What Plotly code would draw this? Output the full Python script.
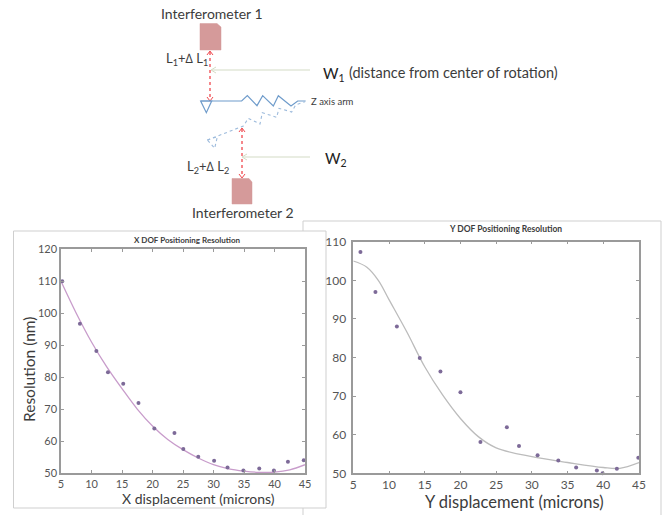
import plotly.graph_objects as go

W, H = 667, 515
FONT = "Lato, Open Sans, sans-serif"

x_scatter_x = [5.2, 8.1, 10.8, 12.7, 15.2, 17.7, 20.3, 23.6, 25.05, 27.5, 30.1, 32.3, 34.9, 37.5, 39.9, 42.2, 44.8]
x_scatter_y = [110, 96.7, 88.2, 81.5, 77.9, 71.9, 63.9, 62.5, 57.5, 55.1, 53.8, 51.7, 50.8, 51.4, 50.8, 53.5, 54]
x_curve_x = [5, 7.5, 10, 12.5, 15, 17.5, 20, 22.5, 25, 27.5, 30, 32.5, 35, 37.5, 40, 42.5, 45]
x_curve_y = [110, 100, 91, 83.2, 76.4, 70, 64.7, 60.5, 57.3, 54.7, 52.6, 51.3, 50.6, 50.2, 50.3, 51, 52.6]

y_scatter_x = [6, 8.1, 11.1, 14.3, 17.2, 20, 22.8, 26.5, 28.2, 30.8, 33.7, 36.2, 39.1, 39.9, 41.9, 44.9]
y_scatter_y = [107.3, 97, 88, 79.9, 76.4, 71, 58.1, 61.9, 57.1, 54.7, 53.3, 51.5, 50.7, 50, 51.2, 54]
y_curve_x = [5, 6.9, 8.5, 10, 12.5, 15, 17.5, 20, 22.5, 25, 30, 35, 40, 42.3, 45]
y_curve_y = [105, 103.4, 100, 95, 86.6, 77.6, 70.3, 64.2, 59.5, 56.6, 54.3, 52.8, 51.5, 51.3, 52.8]

x_ticks = [5, 10, 15, 20, 25, 30, 35, 40, 45]
left_y_ticks = [50, 60, 70, 80, 90, 100, 110, 120]
right_y_ticks = [50, 60, 70, 80, 90, 100, 110]


def fx(p):
    return p / W


def fy(p):
    return 1 - p / H


def frame(x0, y0, x1, y1, fill):
    return dict(type="rect", xref="paper", yref="paper", x0=fx(x0), x1=fx(x1), y0=fy(y1), y1=fy(y0),
                line=dict(color="#cfcfcf", width=1), fillcolor=fill, layer="below")


def path(points, color, width=1.2, dash="solid", fill=None, close=False):
    d = "M " + " L ".join(f"{fx(a):.5f},{fy(b):.5f}" for a, b in points) + (" Z" if close else "")
    return dict(type="path", xref="paper", yref="paper", path=d, fillcolor=fill or "rgba(0,0,0,0)",
                line=dict(color=color, width=width, dash=dash))


def zp(points):
    return [(130 + a / 3, b / 3) for a, b in points]


def label(text, x, y, size, anchor="center", color="#3c3c3c", **kw):
    return dict(text=text, x=fx(x), y=fy(y), xref="paper", yref="paper", showarrow=False,
                xanchor=anchor, yanchor="middle", font=dict(family=FONT, size=size, color=color), **kw)


RED = "#f0484e"
BLUE = "#6f9ccb"
GREEN = "#d4dcc6"
BLOCK = "#d59a9a"

shapes = [
    frame(303, 221, 661, 525, "white"),
    frame(13.5, 231, 326, 508, "white"),
    path([(200, 23.5), (217, 23.5), (221, 27), (221, 50), (200, 50)], BLOCK, 0.5, fill=BLOCK, close=True),
    path([(232, 178.5), (249, 178.5), (252, 182), (252, 204), (232, 204)], BLOCK, 0.5, fill=BLOCK, close=True),
    path([(210, 52), (210, 100)], RED, 1.3, "dot"),
    path([(207, 55), (210, 51), (213, 55)], RED, 1),
    path([(207, 97), (210, 101), (213, 97)], RED, 1),
    path([(242, 129), (242, 177)], RED, 1.3, "dot"),
    path([(239, 132), (242, 128), (245, 132)], RED, 1),
    path([(239, 174), (242, 178), (245, 174)], RED, 1),
    path([(310, 70), (212, 70)], GREEN, 1.2),
    path([(216, 67), (211, 70), (216, 73)], GREEN, 1),
    path([(310, 157), (243, 157)], GREEN, 1.2),
    path([(247, 154), (242, 157), (247, 160)], GREEN, 1),
    path(zp([(212, 303), (335, 303), (352, 287), (381, 317), (398, 287), (430, 318), (445, 287),
             (483, 318), (503, 303), (527, 303)]), BLUE, 1.2),
    path(zp([(212, 303), (245, 303), (229, 338)]), BLUE, 1.2, close=True),
    path(zp([(232, 420), (340, 378), (355, 355), (390, 372), (397, 338), (440, 352), (447, 325),
             (485, 336), (497, 315), (525, 305)]), "#9dbbdc", 1.1, "dot"),
    path(zp([(232, 420), (262, 410), (254, 445)]), "#9dbbdc", 1.1, "dot", close=True),
]

annotations = [
    label("Interferometer 1", 212, 13, 14),
    label("Interferometer 2", 243, 212, 14),
    label("L<sub>1</sub>+∆ L<sub>1</sub>", 187, 59, 13),
    label("L<sub>2</sub>+∆ L<sub>2</sub>", 208, 167, 13),
    label("W<sub>1</sub>", 321, 74, 15, "left", "#222222"),
    label("(distance from center of rotation)", 347, 73, 14.5, "left"),
    label("W<sub>2</sub>", 323, 159, 15, "left", "#222222"),
    label("Z axis arm", 309, 101, 9.5, "left"),
    label("<b>X DOF Positioning Resolution</b>", 187, 240, 8),
    label("<b>Y DOF Positioning Resolution</b>", 505, 229, 8.5),
    label("Resolution (nm)", 29, 370, 15.5, textangle=-90),
    label("X displacement (microns)", 198, 498, 14),
    label("Y displacement (microns)", 514, 502, 16.5),
]

fig = go.Figure()
fig.add_trace(go.Scatter(x=x_curve_x, y=x_curve_y, mode="lines", line=dict(color="#c89ccb", width=1.3, shape="spline"),
                         xaxis="x", yaxis="y", showlegend=False))
fig.add_trace(go.Scatter(x=x_scatter_x, y=x_scatter_y, mode="markers", marker=dict(color="#7d6a98", size=4),
                         xaxis="x", yaxis="y", showlegend=False, cliponaxis=False))
fig.add_trace(go.Scatter(x=y_curve_x, y=y_curve_y, mode="lines", line=dict(color="#bcbcbc", width=1.3, shape="spline"),
                         xaxis="x2", yaxis="y2", showlegend=False))
fig.add_trace(go.Scatter(x=y_scatter_x, y=y_scatter_y, mode="markers", marker=dict(color="#7d6a98", size=4),
                         xaxis="x2", yaxis="y2", showlegend=False, cliponaxis=False))

axis = dict(showgrid=False, zeroline=False, showline=True, mirror="ticks", linecolor="#9a9a9a", linewidth=1.5,
            ticks="inside", ticklen=3, tickcolor="#9a9a9a", tickmode="array", automargin=False)

fig.update_layout(
    width=W, height=H, autosize=False, margin=dict(l=0, r=0, t=0, b=0),
    paper_bgcolor="white", plot_bgcolor="rgba(0,0,0,0)", showlegend=False, hovermode=False,
    shapes=shapes, annotations=annotations,
    xaxis=dict(axis, domain=[fx(61), fx(305)], range=[5, 45], tickvals=x_ticks, anchor="y",
               tickfont=dict(family=FONT, size=11, color="#555555")),
    yaxis=dict(axis, domain=[fy(473), fy(249.3)], range=[50, 120], tickvals=left_y_ticks, anchor="x",
               tickfont=dict(family=FONT, size=11, color="#555555")),
    xaxis2=dict(axis, domain=[fx(353.3), fx(639)], range=[5, 45], tickvals=x_ticks, anchor="y2",
                tickfont=dict(family=FONT, size=12, color="#555555")),
    yaxis2=dict(axis, domain=[fy(473.3), fy(241.7)], range=[50, 110], tickvals=right_y_ticks, anchor="x2",
                ticklabelstandoff=3, tickfont=dict(family=FONT, size=12, color="#555555")),
)

fig.write_html("out.html", config={"displayModeBar": False}, post_script="document.body.style.margin='0';")
